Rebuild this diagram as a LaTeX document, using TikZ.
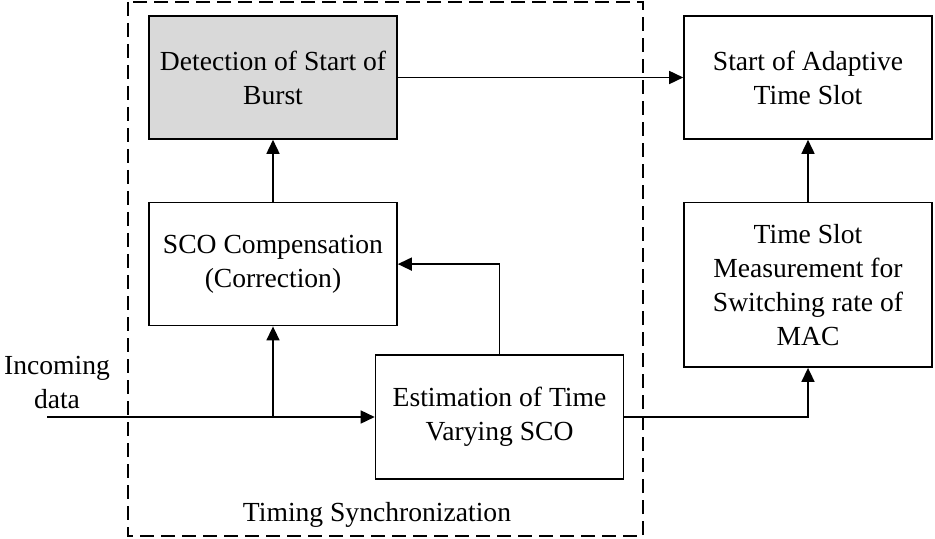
\documentclass[tikz,border=0pt]{standalone}
\usepackage{fontspec}
\setmainfont{Liberation Serif}
\usetikzlibrary{arrows.meta, positioning}

\begin{document}
\begin{tikzpicture}[x=0.5pt, y=-0.5pt,
  >={Triangle[length=7pt,width=6.5pt]},
  every node/.style={font=\fontsize{13.8}{17}\selectfont, align=center},
  box/.style={draw, line width=0.8pt, minimum width=124pt, minimum height=61.5pt, inner sep=0pt},
  link/.style={->, line width=0.8pt}
 ]
 \useasboundingbox (0,0) rectangle (935,539);
 \draw [dash pattern=on 7pt off 3.5pt, line width=0.6pt] (128,2) rectangle (643,536);

 \node [box, fill=gray!30] (D) at (273,77.5) {Detection of Start of\\Burst};
 \node [box, below=31pt of D] (S) {SCO Compensation\\(Correction)};
 \node [box, minimum height=62pt] (E) at (499.5,417) {Estimation of Time\\Varying SCO};
 \node [box] (A) at (808,77.5) {Start of Adaptive\\Time Slot};
 \node [box, below=31pt of A, minimum height=82.25pt] (M) {Time Slot\\Measurement for\\Switching rate of\\MAC};
 \node (I) at (57,382) {Incoming\\data};
 \node (T) at (377,515) {Timing Synchronization};
 \coordinate (in) at (47,417);
 \coordinate (br) at (in -| S.south);

 \draw [link] (in) -- (E.west);
 \draw [link] (br) -- (S.south);
 \draw [link] (S) -- (D);
 \draw [link] (E.north) |- (S.east);
 \draw [link] (D) -- (A);
 \draw [link] (M) -- (A);
 \draw [link] (E.east) -| (M.south);
\end{tikzpicture}
\end{document}
